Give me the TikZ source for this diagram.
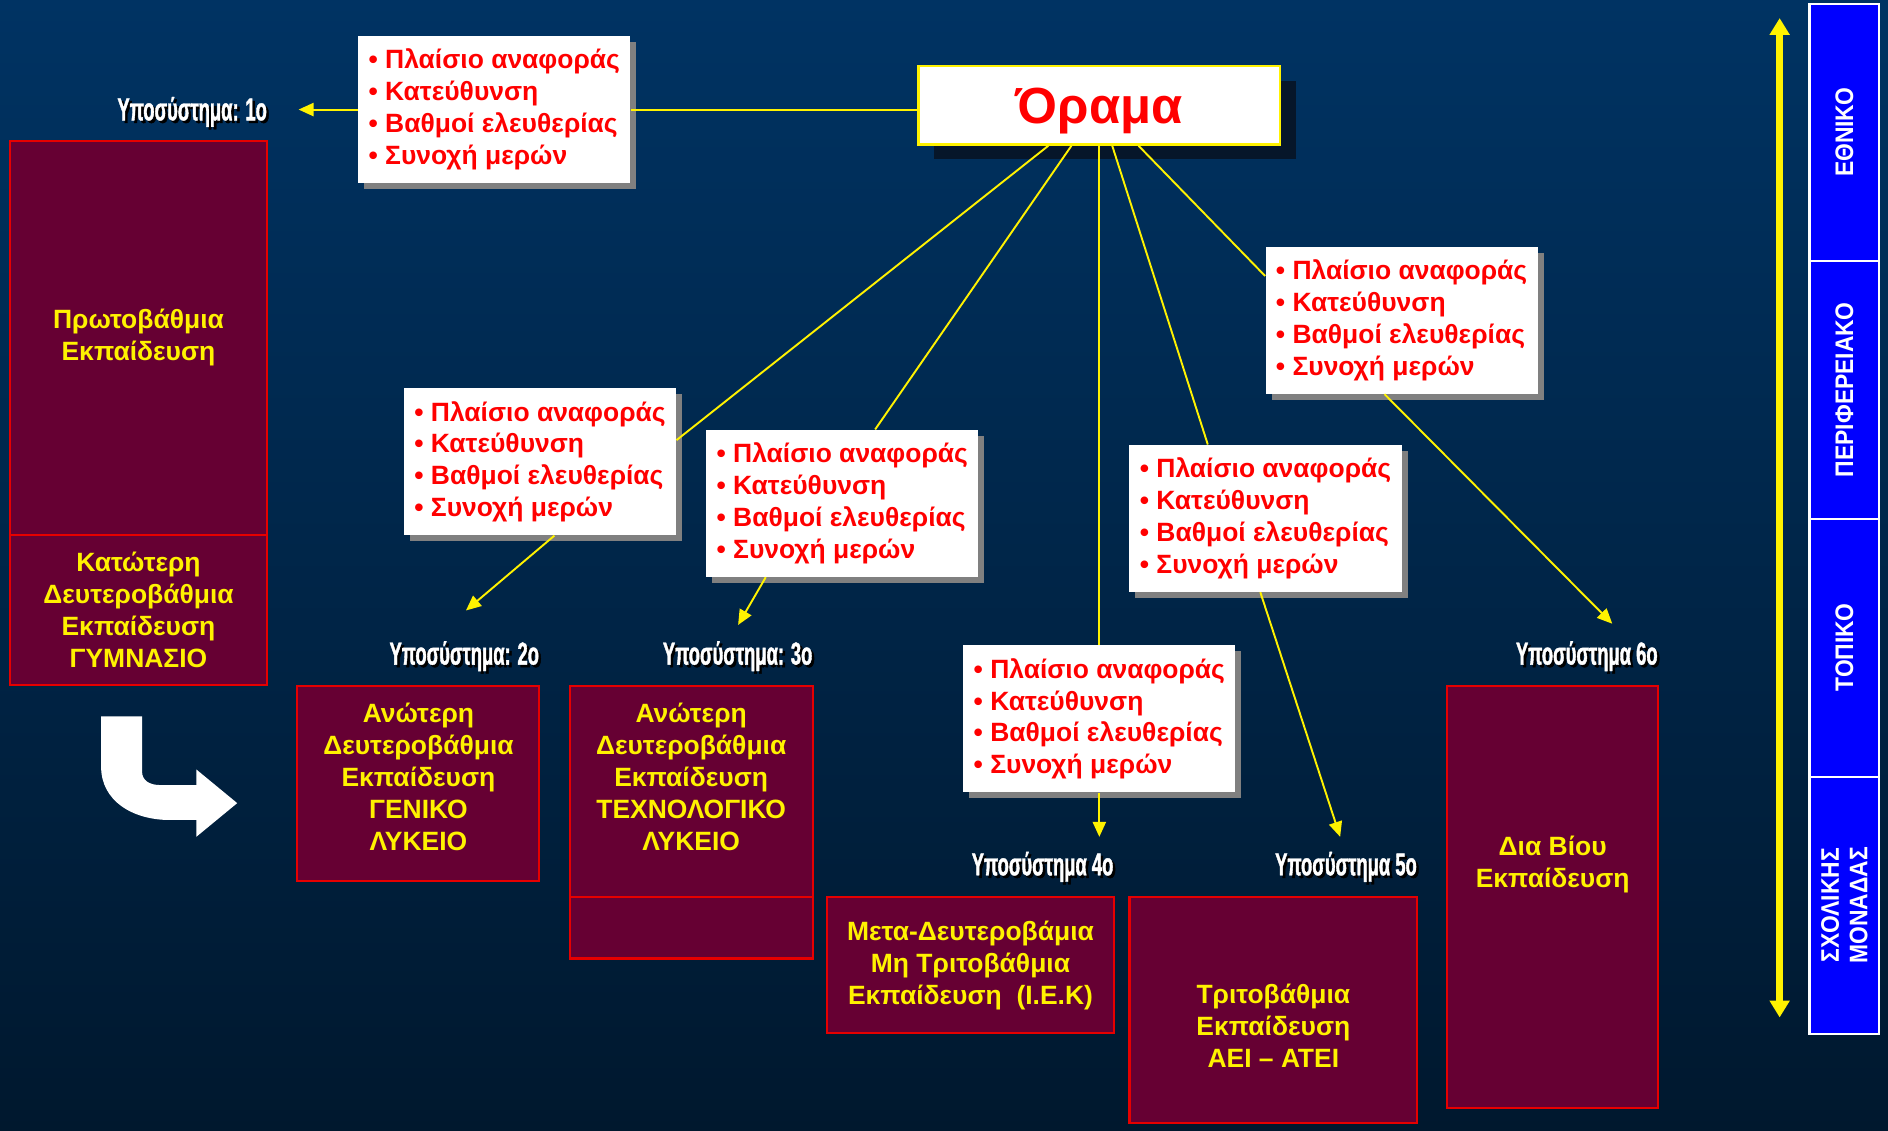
\documentclass[tikz,border=0pt]{standalone}
\usepackage{fontspec}
\setmainfont{Liberation Sans}
\newfontfamily\narrowfont{Liberation Sans Bold}[FakeStretch=0.58, FakeBold=1.2]
\newfontfamily\cellfont{Liberation Sans}[FakeStretch=0.9]
\usetikzlibrary{arrows.meta}
\usetikzlibrary{shadows}
\definecolor{bgtop}{RGB}{0,51,99}
\definecolor{bgbot}{RGB}{0,24,46}
\definecolor{wine}{RGB}{102,0,51}
\definecolor{boxred}{RGB}{230,0,0}
\definecolor{txtred}{RGB}{255,0,0}
\definecolor{lvlblue}{RGB}{0,0,255}
\definecolor{shadowdark}{RGB}{6,22,42}
\newcommand{\subsys}[1]{\makebox[0pt][l]{\hspace{1.2pt}\raisebox{-1.2pt}{\color{black}#1}}{\color{white}#1}}
\newcommand{\infolist}{• Πλαίσιο αναφοράς\\• Κατεύθυνση\\• Βαθμοί ελευθερίας\\• Συνοχή μερών}
\tikzset{
  conn/.style={draw=yellow, line width=0.9pt},
  arr/.style={-{Triangle[length=0.25cm,width=0.22cm]}},
  infobox/.style={fill=white, text=txtred, font=\fontsize{12.5}{15.1}\selectfont\bfseries,
    align=left, minimum width=4.52cm, minimum height=2.44cm, inner sep=2pt,
    drop shadow={shadow xshift=0.1cm, shadow yshift=-0.1cm, fill=gray, opacity=1}},
  levelbox/.style={fill=wine, draw=boxred, line width=1pt, text=yellow,
    font=\fontsize{12.5}{15.1}\selectfont\bfseries, align=center},
  leveltext/.style={text=yellow, font=\fontsize{12.5}{15.1}\selectfont\bfseries, align=center},
  sublabel/.style={anchor=east, inner sep=0pt, font=\narrowfont\fontsize{15}{17}\selectfont},
  lvlcell/.style={fill=lvlblue, draw=white, line width=1pt, rotate=90, minimum width=4.28cm,
    minimum height=1.16cm, text=white, font=\cellfont\fontsize{12}{13.5}\selectfont\bfseries, align=center}
}
\begin{document}
\begin{tikzpicture}[x=0.02cm, y=0.02cm]
        \useasboundingbox (0,0) rectangle (1568,-939);
        \fill[top color=bgtop, bottom color=bgbot] (0,0) rectangle (1568,-939);
        % turn arrow %
        \fill[white] (84,-595) -- (84,-637) .. controls (84,-665) and (110,-681) .. (141,-681)
          -- (163,-681) -- (163,-695) -- (197,-667) -- (163,-639) -- (163,-652) -- (133,-652)
          .. controls (124,-652) and (118,-648) .. (118,-641) -- (118,-595) -- cycle;
        % levels %
        \node[levelbox, minimum width=4.28cm, minimum height=6.54cm] (r1a) at (115,-280.5) {Πρωτοβάθμια\\Εκπαίδευση};
        \node[levelbox, minimum width=4.28cm, minimum height=2.5cm] (r1b) at (115,-506.5) {Κατώτερη\\Δευτεροβάθμια\\Εκπαίδευση\\ΓΥΜΝΑΣΙΟ};
        \node[levelbox, minimum width=4.02cm, minimum height=3.24cm] (r2) at (347.5,-651) {};
        \node[leveltext] (r2t) at (347.5,-645) {Ανώτερη\\Δευτεροβάθμια\\Εκπαίδευση\\ΓΕΝΙΚΟ\\ΛΥΚΕΙΟ};
        \node[levelbox, minimum width=4.04cm, minimum height=3.5cm] (r3a) at (574,-657.5) {};
        \node[leveltext] (r3t) at (574,-645) {Ανώτερη\\Δευτεροβάθμια\\Εκπαίδευση\\ΤΕΧΝΟΛΟΓΙΚΟ\\ΛΥΚΕΙΟ};
        \node[levelbox, minimum width=4.04cm, minimum height=1.02cm] (r3b) at (574,-770.5) {};
        \node[levelbox, minimum width=4.76cm, minimum height=2.26cm] (r4) at (806,-801.5) {Μετα-Δευτεροβάμια\\Μη Τριτοβάθμια\\Εκπαίδευση\ \ (Ι.Ε.Κ)};
        \node[levelbox, minimum width=4.78cm, minimum height=3.76cm] (r5) at (1057.5,-839) {};
        \node[leveltext] (r5t) at (1057.5,-852) {Τριτοβάθμια\\Εκπαίδευση\\ΑΕΙ – ΑΤΕΙ};
        \node[levelbox, minimum width=3.5cm, minimum height=7cm] (r6) at (1289.5,-745) {};
        \node[leveltext] (r6t) at (1289.5,-718) {Δια Βίου\\Εκπαίδευση};
        % subsystem labels %
        \node[sublabel] (s1) at (222,-94) {\subsys{Υποσύστημα: 1ο}};
        \node[sublabel] (s2) at (448,-546) {\subsys{Υποσύστημα: 2ο}};
        \node[sublabel] (s3) at (675,-546) {\subsys{Υποσύστημα: 3ο}};
        \node[sublabel] (s4) at (925,-721) {\subsys{Υποσύστημα 4ο}};
        \node[sublabel] (s5) at (1177,-721) {\subsys{Υποσύστημα 5ο}};
        \node[sublabel] (s6) at (1377,-546) {\subsys{Υποσύστημα 6ο}};
        % vision %
        \node[fill=white, draw=yellow, line width=1.2pt, text=txtred, font=\fontsize{24}{28}\selectfont\bfseries,
          minimum width=6cm, minimum height=1.3cm, text depth=0pt,
          drop shadow={shadow xshift=0.26cm, shadow yshift=-0.24cm, fill=shadowdark, opacity=1}] (orama) at (913,-87.5) {Όραμα};
        \node[infobox] (i1) at (410.5,-91) {\infolist};
        \node[infobox] (i2) at (448.5,-383.5) {\infolist};
        \node[infobox] (i3) at (699.5,-418) {\infolist};
        \node[infobox] (i4) at (913,-597) {\infolist};
        \node[infobox] (i5) at (1051,-430.5) {\infolist};
        \node[infobox] (i6) at (1164,-266) {\infolist};
        % arrow ends %
        \coordinate (t1) at (248,-91);
        \coordinate (t2) at (387,-507);
        \coordinate (t3) at (613,-519);
        \coordinate (t4) at (913,-695);
        \coordinate (t5) at (1113,-695);
        \coordinate (t6) at (1339,-518);
        % edges %
        \draw[conn] (orama.west |- i1.east) -- (i1.east);
        \draw[conn, arr] (i1.west) -- (t1);
        \draw[conn] (orama) -- (i2.9);
        \draw[conn] (orama) -- (i3.66);
        \draw[conn] (orama) -- (i4);
        \draw[conn] (orama) -- (i5.128);
        \draw[conn] (orama) -- (i6.162);
        \draw[conn, arr] (i2.-79) -- (t2);
        \draw[conn, arr] (i3.-136) -- (t3);
        \draw[conn, arr] (i4.south) -- (t4);
        \draw[conn, arr] (i5.-94) -- (t5);
        \draw[conn, arr] (i6.-103) -- (t6);
        % scale of levels %
        \coordinate (lvtop) at (1478,-15);
        \coordinate (lvbot) at (1478,-845);
        \draw[yellow, line width=0.11cm, {Triangle[width=0.32cm,length=0.28cm]}-{Triangle[width=0.32cm,length=0.28cm]}] (lvtop) -- (lvbot);
        \node[lvlcell] (c1) at (1531.75,-110) {ΕΘΝΙΚΟ};
        \node[lvlcell] (c2) at (1531.75,-324) {ΠΕΡΙΦΕΡΕΙΑΚΟ};
        \node[lvlcell] (c3) at (1531.75,-538) {ΤΟΠΙΚΟ};
        \node[lvlcell] (c4) at (1531.75,-752) {ΣΧΟΛΙΚΗΣ\\ΜΟΝΑΔΑΣ};
\end{tikzpicture}
\end{document}
